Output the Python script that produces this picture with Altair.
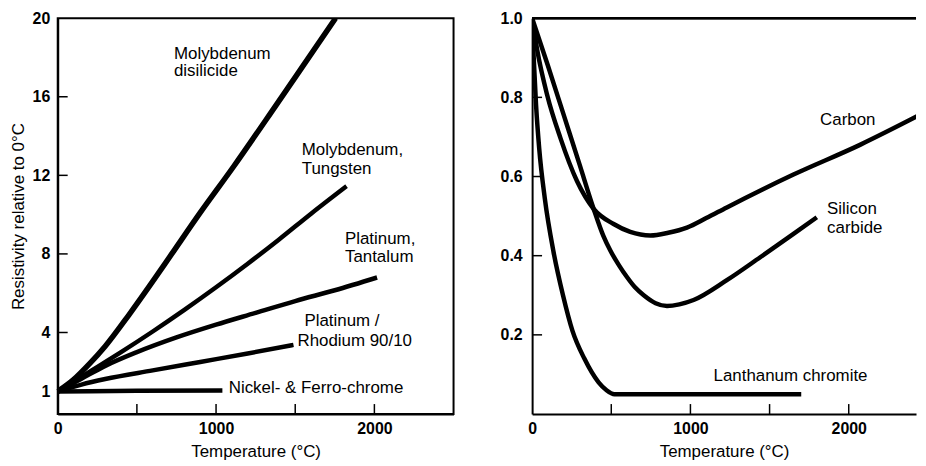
import altair as alt
import pandas as pd

# ---------------- Left panel: resistivity rising with temperature ----------------
disilicide_t = [0, 100, 200, 300, 450, 600, 720, 900, 1111, 1373, 1560, 1755]
disilicide_r = [1.0, 1.6, 2.4, 3.3, 4.9, 6.6, 8.0, 10.1, 12.45, 15.5, 17.7, 20.0]

mo_w_t = [0, 200, 400, 600, 800, 1000, 1200, 1400, 1600, 1824]
mo_w_r = [1.0, 2.0, 3.0, 4.05, 5.15, 6.3, 7.5, 8.75, 10.05, 11.45]

pt_ta_t = [0, 150, 300, 500, 750, 1000, 1250, 1500, 1750, 2017]
pt_ta_r = [1.0, 1.65, 2.3, 3.0, 3.75, 4.4, 5.0, 5.6, 6.15, 6.8]

pt_rh_t = [0, 150, 300, 600, 900, 1200, 1489]
pt_rh_r = [1.0, 1.35, 1.63, 2.07, 2.5, 2.93, 3.37]

nicr_t = [0, 500, 1040]
nicr_r = [1.0, 1.03, 1.05]

left_labels = ["Molybdenum", "disilicide", "Molybdenum,", "Tungsten", "Platinum,",
               "Tantalum", "Platinum /", "Rhodium 90/10", "Nickel- & Ferro-chrome"]
left_label_t = [734, 734, 1541, 1541, 1814, 1814, 1558, 1514, 1080]
left_label_r = [18.2, 17.3, 13.3, 12.33, 8.78, 7.83, 4.6, 3.57, 1.17]

left_y_ticks = [1, 4, 8, 12, 16, 20]
left_inner_y_ticks = [4, 8, 12, 16]

# ---------------- Right panel: resistivity falling with temperature ----------------
carbon_t = [0, 32, 95, 179, 284, 389, 515, 620, 747, 860, 978, 1100, 1230, 1651, 2071, 2470]
carbon_r = [1.0, 0.92, 0.806, 0.697, 0.588, 0.518, 0.48, 0.46, 0.451, 0.458, 0.471,
            0.495, 0.522, 0.605, 0.68, 0.76]

sic_t = [0, 100, 200, 300, 389, 450, 494, 550, 599, 650, 705, 780, 852, 930, 1020,
         1230, 1441, 1651, 1798]
sic_r = [1.0, 0.88, 0.755, 0.63, 0.518, 0.45, 0.413, 0.375, 0.346, 0.32, 0.3, 0.28,
         0.273, 0.277, 0.288, 0.338, 0.396, 0.455, 0.497]

lac_t = [0, 10, 25, 45, 80, 135, 195, 255, 330, 420, 470, 520, 1000, 1700]
lac_r = [1.0, 0.9, 0.78, 0.67, 0.545, 0.41, 0.3, 0.21, 0.14, 0.08, 0.06, 0.05, 0.05, 0.05]

right_labels = ["Carbon", "Silicon", "carbide", "Lanthanum chromite"]
right_label_t = [1819, 1863, 1863, 1146]
right_label_r = [0.743, 0.518, 0.471, 0.095]

right_y_ticks = [0.2, 0.4, 0.6, 0.8, 1.0]
right_inner_y_ticks = [0.2, 0.4, 0.6, 0.8]

x_label_ticks = [0, 1000, 2000]
x_inner_ticks = [500, 1000, 1500, 2000]

FONT = "Liberation Sans"
W1, W2, H = 398, 386, 398
XMAX_RIGHT = 2425
TICK = 10


def series(name, t, r):
    return pd.DataFrame({"series": name, "t": t, "r": r})


left_df = pd.concat([
    series("Molybdenum disilicide", disilicide_t, disilicide_r),
    series("Molybdenum, Tungsten", mo_w_t, mo_w_r),
    series("Platinum, Tantalum", pt_ta_t, pt_ta_r),
    series("Platinum / Rhodium 90/10", pt_rh_t, pt_rh_r),
    series("Nickel- & Ferro-chrome", nicr_t, nicr_r),
], ignore_index=True)

right_df = pd.concat([
    series("Carbon", carbon_t, carbon_r),
    series("Silicon carbide", sic_t, sic_r),
    series("Lanthanum chromite", lac_t, lac_r),
], ignore_index=True)

left_lab_df = pd.DataFrame({"label": left_labels, "t": left_label_t, "r": left_label_r})
right_lab_df = pd.DataFrame({"label": right_labels, "t": right_label_t, "r": right_label_r})
xtick_df = pd.DataFrame({"t": x_inner_ticks})
ytick_left_df = pd.DataFrame({"r": left_inner_y_ticks})
ytick_right_df = pd.DataFrame({"r": right_inner_y_ticks})

x_title = "Temperature (°C)"

# ---------- left ----------
xl = alt.X("t:Q", scale=alt.Scale(domain=[0, 2500], nice=False),
           axis=alt.Axis(values=x_label_ticks, format="d", title=x_title, labelFlush=False,
                         labelPadding=7, titlePadding=7))
yl = alt.Y("r:Q", scale=alt.Scale(domain=[-0.15, 20], nice=False, zero=False),
           axis=alt.Axis(values=left_y_ticks, format="d", title="Resistivity relative to 0°C",
                         labelPadding=8, titlePadding=5))

left_thick = alt.Chart(left_df).transform_filter(
    alt.datum.series == "Molybdenum disilicide"
).mark_line(color="black", strokeWidth=5.5, strokeCap="butt", interpolate="monotone",
            clip=True).encode(x=xl, y=yl, detail="series:N")
left_lines = alt.Chart(left_df).transform_filter(
    alt.datum.series != "Molybdenum disilicide"
).mark_line(color="black", strokeWidth=4.5, strokeCap="butt", interpolate="monotone").encode(
    x=xl, y=yl, detail="series:N")
left_text = alt.Chart(left_lab_df).mark_text(
    align="left", baseline="middle", font=FONT, fontSize=17, color="black"
).encode(x=xl, y=yl, text="label:N")
left_xticks = alt.Chart(xtick_df).mark_rule(color="black", strokeWidth=1.5).encode(
    x=xl, y=alt.value(H), y2=alt.value(H - TICK))
left_yticks = alt.Chart(ytick_left_df).mark_rule(color="black", strokeWidth=1.5).encode(
    y=yl, x=alt.value(0), x2=alt.value(TICK))

left = alt.layer(left_lines, left_thick, left_text, left_xticks, left_yticks).properties(
    width=W1, height=H)

# ---------- right ----------
xr = alt.X("t:Q", scale=alt.Scale(domain=[0, XMAX_RIGHT], nice=False),
           axis=alt.Axis(values=x_label_ticks, format="d", title=x_title, labelFlush=False,
                         labelPadding=7, titlePadding=7))
yr = alt.Y("r:Q", scale=alt.Scale(domain=[0, 1], nice=False),
           axis=alt.Axis(values=right_y_ticks, format=".1f", title=None, labelPadding=10))

right_lines = alt.Chart(right_df).mark_line(
    color="black", strokeWidth=4.5, strokeCap="butt", interpolate="monotone", clip=True
).encode(x=xr, y=yr, detail="series:N")
right_text = alt.Chart(right_lab_df).mark_text(
    align="left", baseline="middle", font=FONT, fontSize=17, color="black"
).encode(x=xr, y=yr, text="label:N")
right_xticks = alt.Chart(xtick_df).mark_rule(color="black", strokeWidth=1.5).encode(
    x=xr, y=alt.value(H), y2=alt.value(H - TICK))
right_yticks = alt.Chart(ytick_right_df).mark_rule(color="black", strokeWidth=1.5).encode(
    y=yr, x=alt.value(0), x2=alt.value(TICK))
# top frame line of the right panel, at the top of the value domain
right_top = alt.Chart(ytick_right_df).mark_rule(color="black", strokeWidth=2).encode(
    x=alt.datum(0), x2=alt.datum(XMAX_RIGHT), y=alt.datum(1.0))

right = alt.layer(right_lines, right_text, right_yticks, right_xticks, right_top).properties(
    width=W2, height=H, view=alt.ViewBackground(stroke="transparent"))

chart = alt.hconcat(left, right, spacing=44).properties(
    padding=0, background="white"
).configure_view(
    stroke="black", strokeWidth=2
).configure_axis(
    labelFont=FONT, labelFontSize=16, labelColor="black", labelFontWeight="bold",
    titleFont=FONT, titleFontSize=17, titleColor="black", titleFontWeight="normal",
    domainColor="black", domainWidth=2, ticks=False, grid=False
)

chart.save("out.html", embed_options={"renderer": "svg", "actions": False})
